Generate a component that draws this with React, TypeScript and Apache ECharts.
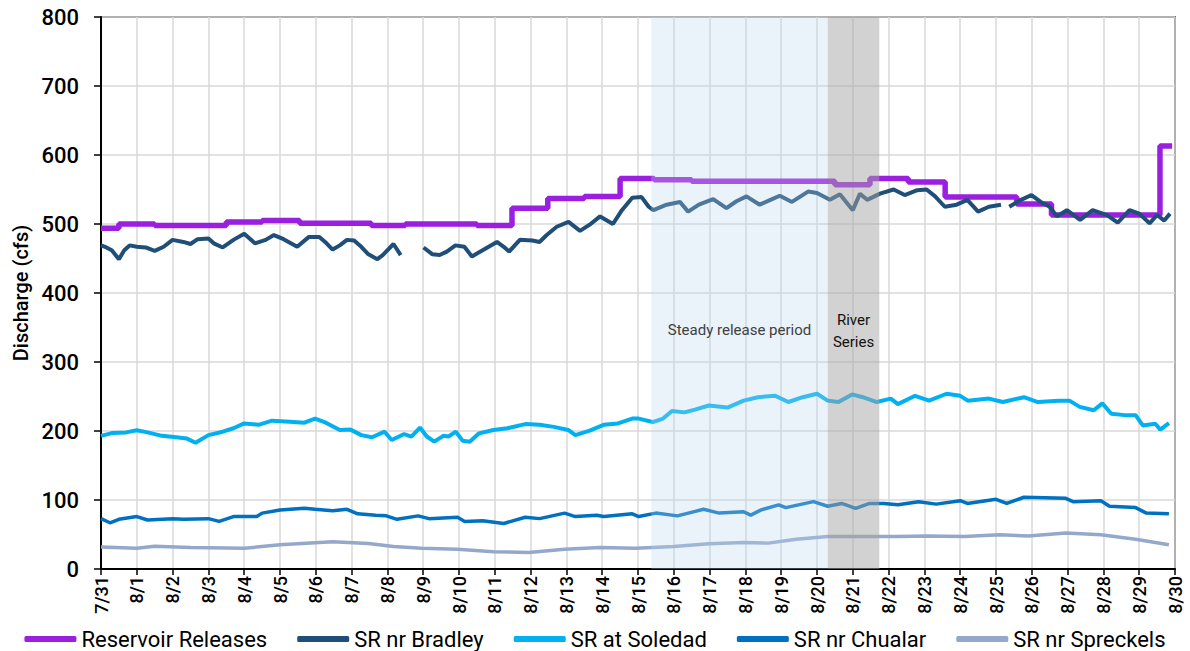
import React, { useEffect, useRef } from "react";
import * as echarts from "echarts";

const dateLabels = [
  "7/31", "8/1", "8/2", "8/3", "8/4", "8/5", "8/6", "8/7", "8/8", "8/9", "8/10",
  "8/11", "8/12", "8/13", "8/14", "8/15", "8/16", "8/17", "8/18", "8/19", "8/20",
  "8/21", "8/22", "8/23", "8/24", "8/25", "8/26", "8/27", "8/28", "8/29", "8/30",
];

const seriesNames = [
  "Reservoir Releases",
  "SR nr Bradley",
  "SR at Soledad",
  "SR nr Chualar",
  "SR nr Spreckels",
];

// [day offset from 7/31, cfs]; value holds until the next change
const releases = [
  [0, 494], [0.5, 500], [1.5, 498], [3.5, 503], [4.5, 505], [5.55, 501],
  [7.55, 498], [8.5, 500], [10.5, 498], [11.48, 523], [12.48, 537], [13.5, 540],
  [14.5, 566], [15.45, 564], [16.5, 562], [20.5, 557], [21.48, 566], [22.55, 561],
  [23.58, 539], [25.58, 529], [26.55, 513], [29.58, 613], [29.92, 613],
];

const bradley = [
  [0, 469], [0.15, 466], [0.3, 462], [0.5, 449], [0.65, 462], [0.8, 469], [1, 467],
  [1.25, 466], [1.5, 461], [1.75, 467], [2, 477], [2.3, 474], [2.5, 471], [2.7, 478],
  [3, 479], [3.15, 472], [3.4, 466], [3.7, 477], [4, 486], [4.3, 472], [4.6, 477],
  [4.83, 484], [5.1, 478], [5.48, 467], [5.8, 481], [6.1, 481], [6.3, 472], [6.47, 463],
  [6.67, 469], [6.87, 477], [7.07, 476], [7.27, 467], [7.47, 456], [7.72, 449],
  [7.87, 455], [8.17, 471], [8.37, 455], [8.6, null], [9.01, 466], [9.26, 456],
  [9.46, 455], [9.66, 460], [9.9, 469], [10.15, 467], [10.36, 453], [10.66, 462],
  [11.06, 474], [11.25, 467], [11.4, 460], [11.7, 477], [12.05, 476], [12.25, 474],
  [12.45, 484], [12.73, 496], [13.06, 503], [13.38, 490], [13.65, 499], [13.94, 511],
  [14.3, 500], [14.55, 520], [14.84, 538], [15.1, 539], [15.3, 525], [15.43, 520],
  [15.8, 528], [16.17, 532], [16.4, 518], [16.7, 528], [17.1, 536], [17.47, 523],
  [17.75, 533], [18.03, 540], [18.4, 528], [18.7, 535], [18.96, 541], [19.3, 532],
  [19.75, 547], [20.0, 545], [20.36, 535], [20.64, 543], [21.0, 520], [21.2, 544],
  [21.4, 535], [21.76, 544], [22.14, 550], [22.45, 542], [22.8, 549], [23.06, 550],
  [23.3, 540], [23.57, 525], [23.9, 528], [24.2, 535], [24.5, 518], [24.8, 525],
  [25.14, 528], [25.25, null], [25.37, 525], [25.7, 535], [25.99, 542], [26.25, 532],
  [26.5, 525], [26.7, 511], [26.98, 520], [27.35, 506], [27.7, 520], [28.1, 513],
  [28.4, 502], [28.73, 520], [29.0, 515], [29.29, 501], [29.5, 513], [29.7, 505],
  [29.86, 515],
];

const soledad = [
  [0, 193], [0.3, 197], [0.7, 198], [1, 201], [1.3, 198], [1.7, 193], [2.1, 191],
  [2.4, 189], [2.64, 183], [3, 194], [3.4, 199], [3.7, 204], [4, 211], [4.4, 209],
  [4.78, 215], [5.28, 213.5], [5.68, 212], [5.98, 218], [6.28, 212], [6.67, 201.5],
  [6.97, 202], [7.27, 194], [7.57, 191], [7.92, 199], [8.12, 187], [8.47, 195.6],
  [8.67, 192], [8.91, 205], [9.1, 192], [9.31, 184.5], [9.56, 193], [9.71, 192],
  [9.91, 199], [10.1, 186], [10.3, 184.5], [10.56, 196.6], [10.96, 201.5], [11.35, 204],
  [11.85, 210], [12.25, 209], [12.65, 206], [13.05, 201.5], [13.25, 194], [13.65, 200.5],
  [14.04, 209], [14.44, 211], [14.84, 218], [15.02, 218], [15.41, 213], [15.7, 218],
  [15.95, 229], [16.3, 227], [16.59, 231], [16.98, 237], [17.5, 234], [17.95, 244],
  [18.35, 249], [18.83, 251], [19.2, 242], [19.6, 249], [20.0, 254], [20.3, 244],
  [20.6, 242], [20.98, 253], [21.28, 249], [21.67, 242], [22.06, 247], [22.26, 239],
  [22.74, 251], [23.13, 244], [23.62, 254], [24.0, 251], [24.21, 244], [24.8, 247],
  [25.19, 242], [25.78, 249], [26.17, 242], [26.75, 244], [27.05, 244], [27.34, 235],
  [27.73, 230], [27.97, 240], [28.22, 225], [28.6, 223], [28.9, 223], [29.1, 208],
  [29.45, 210.5], [29.59, 202], [29.83, 211.5],
];

const chualar = [
  [0, 73], [0.25, 67], [0.5, 72], [1, 76], [1.3, 71], [2, 73], [2.3, 72], [3, 73],
  [3.3, 69], [3.7, 76], [4.35, 76], [4.5, 81], [5, 85.5], [5.68, 88], [5.98, 86.5],
  [6.47, 84.5], [6.87, 86.5], [7.17, 80], [7.67, 78], [7.97, 77], [8.27, 72], [8.86, 77],
  [9.16, 73], [9.96, 75], [10.16, 69], [10.66, 70], [11.25, 66], [11.85, 75], [12.25, 73],
  [12.95, 81], [13.25, 76], [13.85, 78], [14.04, 76], [14.84, 80], [15.02, 76], [15.5, 81],
  [16.1, 77], [16.83, 86.5], [17.27, 81], [17.95, 83], [18.15, 78], [18.44, 85.6],
  [18.93, 93], [19.13, 89], [19.9, 97.6], [20.3, 91], [20.69, 95], [21.08, 88],
  [21.47, 95], [21.87, 95], [22.26, 93], [22.84, 97.6], [23.33, 94], [24.0, 99],
  [24.2, 95], [25.0, 101], [25.3, 95], [25.78, 104], [26.95, 102.4], [27.15, 97.6],
  [27.93, 99], [28.17, 91], [28.9, 89], [29.2, 81], [29.83, 80],
];

const spreckels = [
  [0, 32], [1, 30], [1.5, 33], [2.5, 31], [4, 30], [5, 35], [6.47, 39.5], [7.47, 37],
  [8.17, 32.5], [8.96, 30], [9.96, 28.5], [10.96, 25], [11.95, 24], [12.95, 28.5],
  [13.94, 31], [14.94, 30], [16, 32.7], [16.98, 36.5], [17.95, 38.5], [18.64, 37.5],
  [19.42, 43], [20.3, 47], [21.28, 47], [22.26, 47], [23.04, 48], [24.1, 47], [25.1, 49.5],
  [25.9, 48], [26.95, 52], [27.93, 49.5], [28.9, 43], [29.83, 35],
];

const steadyPeriod = [15.37, 20.3];
const riverSeries = [20.3, 21.74];

const colors = ["#9B1FDF", "#1F4E79", "#00B0F0", "#0070C0", "#94A8CC"];

export default function App() {
  const ref = useRef<HTMLDivElement>(null);

  useEffect(() => {
    if (!ref.current) return;
    const chart = echarts.init(ref.current, null, { renderer: "svg" });
    const font = "Roboto, 'Noto Sans', sans-serif";
    const lineData = [releases, bradley, soledad, chualar, spreckels];
    const widths = [5.5, 4, 4, 3.5, 3.5];

    const series: any[] = lineData.map((d, i) => ({
      name: seriesNames[i],
      type: "line",
      data: d,
      step: i === 0 ? "end" : undefined,
      showSymbol: false,
      connectNulls: false,
      lineStyle: { color: colors[i], width: widths[i] },
      itemStyle: { color: colors[i] },
      z: 2,
    }));

    series.push({
      name: "periods",
      type: "line",
      data: [],
      z: 10,
      silent: true,
      markArea: {
        silent: true,
        z: 10,
        data: [
          [
            {
              xAxis: steadyPeriod[0],
              itemStyle: { color: "rgba(189,215,238,0.3)" },
              label: {
                show: true,
                position: "inside",
                formatter: "Steady release period",
                offset: [0, 37],
                color: "#404040",
                fontSize: 15,
                fontFamily: font,
              },
            },
            { xAxis: steadyPeriod[1] },
          ],
          [
            {
              xAxis: riverSeries[0],
              itemStyle: { color: "rgba(166,166,166,0.5)" },
              label: {
                show: true,
                position: "inside",
                formatter: "River\nSeries",
                offset: [0, 38],
                color: "#111",
                fontSize: 15,
                lineHeight: 22,
                fontFamily: font,
              },
            },
            { xAxis: riverSeries[1] },
          ],
        ],
      },
    });

    chart.setOption({
      animation: false,
      textStyle: { fontFamily: font },
      grid: {
        left: 101,
        right: 15,
        top: 17,
        bottom: 82,
        show: true,
        borderColor: "#000",
        borderWidth: 1.5,
        backgroundColor: "transparent",
      },
      legend: {
        data: seriesNames,
        top: 623,
        left: "center",
        icon: "roundRect",
        itemWidth: 52,
        itemHeight: 6,
        itemGap: 30,
        textStyle: { fontSize: 22, color: "#000", fontFamily: font },
      },
      xAxis: {
        type: "value",
        min: 0,
        max: 30,
        interval: 1,
        axisLine: { show: true, lineStyle: { color: "#000", width: 2 } },
        axisTick: { show: true, length: 6, lineStyle: { color: "#000", width: 1.5 } },
        splitLine: { show: true, lineStyle: { color: "#d9d9d9", width: 1.5 } },
        axisLabel: {
          rotate: 90,
          margin: 7,
          fontSize: 18,
          fontWeight: 500,
          color: "#000",
          formatter: (v: number) => dateLabels[Math.round(v)] ?? "",
        },
      },
      yAxis: {
        type: "value",
        min: 0,
        max: 800,
        interval: 100,
        name: "Discharge (cfs)",
        nameLocation: "middle",
        nameGap: 68,
        nameTextStyle: { fontSize: 20, fontWeight: 500, color: "#000", fontFamily: font },
        axisLine: { show: true, lineStyle: { color: "#000", width: 2 } },
        axisTick: { show: true, length: 7, lineStyle: { color: "#000", width: 1.5 } },
        splitLine: { show: true, lineStyle: { color: "#d9d9d9", width: 1.5 } },
        axisLabel: { fontSize: 22, fontWeight: 500, color: "#000", margin: 22 },
      },
      series,
    });

    return () => chart.dispose();
  }, []);

  return (
    <div
      ref={ref}
      style={{ position: "fixed", left: 0, top: 0, width: 1190, height: 651, background: "#fff" }}
    />
  );
}
